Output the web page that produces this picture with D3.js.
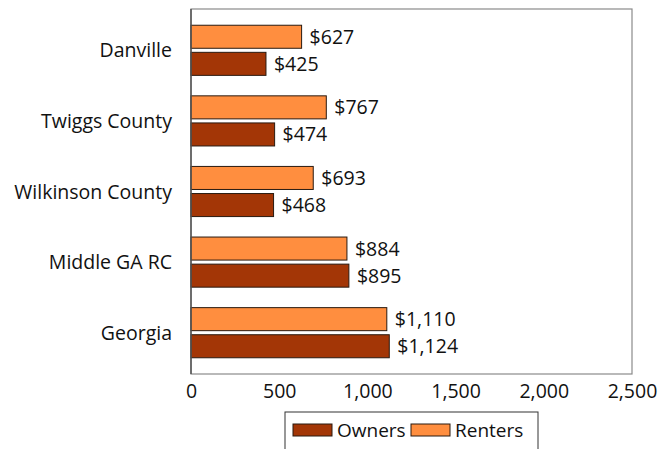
<!DOCTYPE html>
<html>
<head>
<meta charset="utf-8">
<script src="https://cdn.jsdelivr.net/npm/d3@7"></script>
<style>
  body { margin: 0; background: #fff; }
  text { font-family: "Open Sans", sans-serif; fill: #111; }
</style>
</head>
<body>
<svg width="660" height="449"></svg>
<script>
// chart data
var places = ['Danville', 'Twiggs County', 'Wilkinson County', 'Middle GA RC', 'Georgia'];
var renters = [627, 767, 693, 884, 1110];
var owners = [425, 474, 468, 895, 1124];
var seriesNames = ['Renters', 'Owners'];
var xTicks = [0, 500, 1000, 1500, 2000, 2500];

var colors = { Owners: '#a33606', Renters: '#ff8e3f' };
var fontSize = '19.5px';

var svg = d3.select('svg');
var m = { left: 191, right: 632, top: 9, bottom: 374 };

// rows for each place
var rows = places.map(function(p, i){
  return { place: p, Renters: renters[i], Owners: owners[i] };
});

var x = d3.scaleLinear().domain([0, 2500]).range([m.left, m.right]);
var y = d3.scaleBand().domain(places).range([m.top, m.bottom])
          .paddingInner(0.29).paddingOuter(0.23);
var ySub = d3.scaleBand().domain(seriesNames).range([0, y.bandwidth()])
             .paddingInner(0.15);

// frame
svg.append('rect')
   .attr('x', m.left).attr('y', m.top)
   .attr('width', m.right - m.left).attr('height', m.bottom - m.top)
   .style('fill', 'none').style('stroke', '#8a8a8a').style('stroke-width', 1.2);

var groups = svg.selectAll('g.row')
                .data(rows)
                .enter()
                .append('g')
                  .attr('class', 'row')
                  .attr('transform', function(d){ return 'translate(0,' + y(d.place) + ')' });

groups.selectAll('rect')
      .data(function(d){ return seriesNames.map(function(s){ return { s: s, v: d[s] } }) })
      .enter()
      .append('rect')
        .attr('x', x(0))
        .attr('y', function(d){ return ySub(d.s) })
        .attr('width', function(d){ return x(d.v) - x(0) })
        .attr('height', ySub.bandwidth())
        .style('fill', function(d){ return colors[d.s] })
        .style('stroke', '#2a1a10')
        .style('stroke-width', 1);

groups.selectAll('text.val')
      .data(function(d){ return seriesNames.map(function(s){ return { s: s, v: d[s] } }) })
      .enter()
      .append('text')
        .attr('class', 'val')
        .attr('x', function(d){ return x(d.v) + 8 })
        .attr('y', function(d){ return ySub(d.s) + ySub.bandwidth() / 2 })
        .attr('dy', '0.36em')
        .style('font-size', fontSize)
        .text(function(d){ return '$' + d3.format(',')(d.v) });

// category labels
svg.selectAll('text.cat')
   .data(places)
   .enter()
   .append('text')
     .attr('class', 'cat')
     .attr('x', m.left - 19)
     .attr('y', function(d){ return y(d) + y.bandwidth() / 2 })
     .attr('dy', '0.36em')
     .attr('text-anchor', 'end')
     .style('font-size', fontSize)
     .text(function(d){ return d });

// x axis
var xAxis = d3.axisBottom(x).tickValues(xTicks).tickSize(0).tickPadding(10)
              .tickFormat(d3.format(','));
var ax = svg.append('g').attr('transform', 'translate(0,' + m.bottom + ')').call(xAxis);
ax.select('.domain').remove();
ax.selectAll('text').style('font-size', fontSize).style('font-family', '"Open Sans", sans-serif').style('fill', '#111');

// left axis line
svg.append('line')
   .attr('x1', m.left).attr('x2', m.left).attr('y1', m.top).attr('y2', m.bottom)
   .style('stroke', '#555').style('stroke-width', 1.5);

// legend
var legend = svg.append('g');
legend.append('rect')
      .attr('x', 285).attr('y', 412).attr('width', 253).attr('height', 45)
      .style('fill', '#fff').style('stroke', '#333').style('stroke-width', 1);
var legItems = [{ s: 'Owners', x: 293 }, { s: 'Renters', x: 411 }];
legItems.forEach(function(it){
  legend.append('rect')
        .attr('x', it.x).attr('y', 424).attr('width', 39).attr('height', 12)
        .style('fill', colors[it.s]).style('stroke', '#2a1a10').style('stroke-width', 1);
  legend.append('text')
        .attr('x', it.x + 44).attr('y', 430).attr('dy', '0.36em')
        .style('font-size', '19px')
        .text(it.s);
});
</script>
</body>
</html>
